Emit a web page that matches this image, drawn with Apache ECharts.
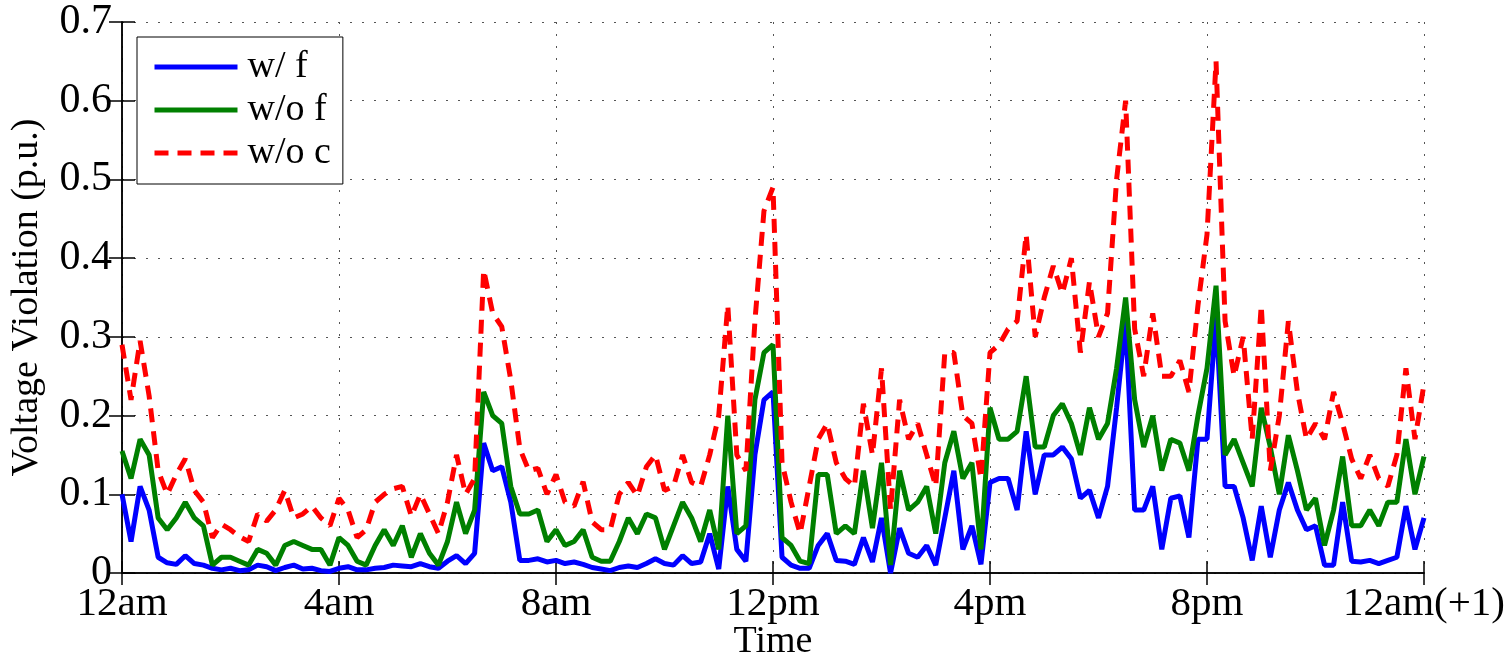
<!DOCTYPE html>
<html>
<head>
<meta charset="utf-8">
<script src="https://cdn.jsdelivr.net/npm/echarts@6/dist/echarts.min.js"></script>
<style>
html,body{margin:0;padding:0;background:#fff;}
#chart{width:1507px;height:657px;}
</style>
</head>
<body>
<div id="chart"></div>
<script>
// Sampling step: 10 minutes, from 12am to 12am(+1)
const stepMinutes = 10;
const xTickLabels = ['12am', '4am', '8am', '12pm', '4pm', '8pm', '12am(+1)'];
const yTickLabels = ['0', '0.1', '0.2', '0.3', '0.4', '0.5', '0.6', '0.7'];
const seriesNames = ['w/ f', 'w/o f', 'w/o c'];

const withF = [
  0.10,0.04,0.11,0.08,0.02,0.013,0.011,0.022,0.012,0.01,0.006,0.004,0.006,0.003,0.004,0.01,0.008,0.003,0.007,0.01,0.005,0.006,0.003,0.002,0.006,0.008,0.004,0.004,0.006,0.007,0.01,0.009,0.008,0.012,0.008,0.006,0.015,
  0.022,0.012,0.025,0.165,0.13,0.135,0.09,0.016,0.016,0.018,0.014,0.016,0.012,0.014,0.011,0.007,0.005,0.003,0.007,0.009,0.007,0.012,0.018,0.012,0.01,0.022,0.012,0.014,0.05,0.005,0.11,0.03,0.015,0.15,0.22,0.23,
  0.02,0.01,0.006,0.006,0.035,0.05,0.016,0.015,0.011,0.045,0.014,0.07,0.0,0.057,0.025,0.02,0.035,0.01,0.07,0.13,0.03,0.06,0.011,0.115,0.12,0.12,0.08,0.18,0.10,0.15,0.15,0.16,0.145,0.095,0.105,
  0.07,0.11,0.21,0.32,0.08,0.08,0.11,0.03,0.095,0.098,0.045,0.17,0.17,0.325,0.11,0.11,0.07,0.016,0.085,0.02,0.08,0.115,0.08,0.055,0.06,0.01,0.01,0.09,0.015,0.014,0.016,0.012,0.016,0.02,0.085,0.03,0.07
];
const withoutF = [
  0.155,0.12,0.17,0.15,0.07,0.055,0.07,0.09,0.07,0.06,0.01,0.02,0.02,0.015,0.01,0.03,0.025,0.01,0.035,0.04,0.035,0.03,0.03,0.01,0.045,0.035,0.015,0.01,0.035,0.055,0.035,0.06,0.02,0.05,0.025,0.01,0.04,
  0.09,0.05,0.08,0.23,0.2,0.19,0.11,0.075,0.075,0.08,0.04,0.055,0.035,0.04,0.055,0.02,0.015,0.015,0.04,0.07,0.05,0.075,0.07,0.03,0.06,0.09,0.07,0.04,0.08,0.03,0.2,0.05,0.06,0.22,0.28,0.29,
  0.045,0.035,0.015,0.012,0.125,0.125,0.05,0.06,0.05,0.13,0.057,0.14,0.01,0.13,0.08,0.09,0.11,0.05,0.14,0.18,0.12,0.14,0.03,0.21,0.17,0.17,0.18,0.25,0.16,0.16,0.2,0.215,0.19,0.15,0.21,
  0.17,0.19,0.26,0.35,0.22,0.16,0.2,0.13,0.17,0.165,0.13,0.2,0.26,0.365,0.15,0.17,0.14,0.11,0.21,0.16,0.10,0.175,0.13,0.08,0.095,0.035,0.08,0.148,0.06,0.06,0.08,0.06,0.09,0.09,0.17,0.10,0.148
];
const withoutC = [
  0.29,0.22,0.295,0.225,0.13,0.10,0.125,0.145,0.105,0.09,0.045,0.062,0.055,0.046,0.04,0.075,0.066,0.08,0.105,0.07,0.075,0.085,0.07,0.06,0.095,0.08,0.045,0.055,0.09,0.10,0.107,0.11,0.072,0.10,0.075,0.05,0.09,
  0.15,0.10,0.12,0.385,0.33,0.313,0.245,0.158,0.13,0.133,0.10,0.125,0.09,0.085,0.116,0.065,0.055,0.055,0.10,0.115,0.098,0.135,0.15,0.105,0.11,0.15,0.115,0.11,0.15,0.20,0.34,0.15,0.13,0.32,0.46,0.49,
  0.14,0.09,0.05,0.11,0.17,0.19,0.14,0.12,0.11,0.215,0.15,0.26,0.08,0.22,0.17,0.19,0.15,0.11,0.28,0.28,0.20,0.19,0.12,0.28,0.29,0.31,0.32,0.43,0.30,0.35,0.39,0.355,0.40,0.28,0.37,
  0.30,0.33,0.50,0.60,0.31,0.25,0.33,0.25,0.25,0.27,0.23,0.34,0.43,0.65,0.32,0.25,0.30,0.17,0.34,0.13,0.20,0.32,0.23,0.17,0.19,0.17,0.23,0.19,0.145,0.12,0.15,0.12,0.11,0.15,0.26,0.17,0.24
];

function toPairs(arr) {
  return arr.map((v, i) => [i * stepMinutes / 60, v]);
}

const FONT = 'Liberation Serif';
const chart = echarts.init(document.getElementById('chart'), null, {renderer: 'canvas'});

const axisLineStyle = {color: '#000', width: 1.5};
const gridLineStyle = {color: '#555', width: 1, type: [2, 10]};

chart.setOption({
  animation: false,
  backgroundColor: '#fff',
  grid: {left: 122, right: 83, top: 22, bottom: 84, containLabel: false, outerBoundsMode: 'none'},
  legend: {
    orient: 'vertical',
    left: 137,
    top: 37,
    padding: [11, 12, 12, 15],
    itemGap: 5,
    itemWidth: 83,
    itemHeight: 14,
    backgroundColor: '#fff',
    borderColor: '#000',
    borderWidth: 1,
    borderRadius: 0,
    data: seriesNames,
    itemStyle: {opacity: 0, borderWidth: 0},
    lineStyle: {width: 5, inactiveWidth: 5},
    textStyle: {fontFamily: FONT, fontSize: 38, color: '#000', lineHeight: 38, padding: [0, 0, 0, 5]}
  },
  xAxis: [{
    type: 'value', min: 0, max: 24, interval: 4,
    name: 'Time', nameLocation: 'middle', nameGap: 50, nameMoveOverlap: false,
    nameTextStyle: {fontFamily: FONT, fontSize: 38, color: '#000', verticalAlign: 'top'},
    axisLine: {show: true, lineStyle: axisLineStyle},
    axisTick: {show: true, inside: true, length: 12, lineStyle: axisLineStyle},
    axisLabel: {
      margin: 11, fontFamily: FONT, fontSize: 41, color: '#000',
      formatter: v => xTickLabels[Math.round(v / 4)]
    },
    splitLine: {show: true, lineStyle: gridLineStyle}
  }, {
    type: 'value', min: 0, max: 24, interval: 4, position: 'top',
    axisLine: {show: true, lineStyle: axisLineStyle},
    axisTick: {show: true, inside: true, length: 12, lineStyle: axisLineStyle},
    axisLabel: {show: false},
    splitLine: {show: false}
  }],
  yAxis: [{
    type: 'value', min: 0, max: 0.7, interval: 0.1,
    name: 'Voltage Violation (p.u.)', nameLocation: 'middle', nameGap: 76, nameMoveOverlap: false,
    nameTextStyle: {fontFamily: FONT, fontSize: 38, color: '#000'},
    axisLine: {show: true, lineStyle: axisLineStyle},
    axisTick: {show: true, inside: true, length: 13, lineStyle: axisLineStyle},
    axisLabel: {
      margin: 10, fontFamily: FONT, fontSize: 42, color: '#000',
      formatter: v => yTickLabels[Math.round(v * 10)]
    },
    splitLine: {show: true, lineStyle: gridLineStyle}
  }, {
    type: 'value', min: 0, max: 0.7, interval: 0.1, position: 'right',
    axisLine: {show: true, lineStyle: axisLineStyle},
    axisTick: {show: true, inside: true, length: 13, lineStyle: axisLineStyle},
    axisLabel: {show: false},
    splitLine: {show: false}
  }],
  series: [{
    name: seriesNames[0], type: 'line', data: toPairs(withF),
    symbol: 'none', color: '#0000ff',
    lineStyle: {color: '#0000ff', width: 5}
  }, {
    name: seriesNames[1], type: 'line', data: toPairs(withoutF),
    symbol: 'none', color: '#008000',
    lineStyle: {color: '#008000', width: 5}
  }, {
    name: seriesNames[2], type: 'line', data: toPairs(withoutC),
    symbol: 'none', color: '#ff0000',
    lineStyle: {color: '#ff0000', width: 5, type: [14, 9]}
  }]
});
</script>
</body>
</html>
